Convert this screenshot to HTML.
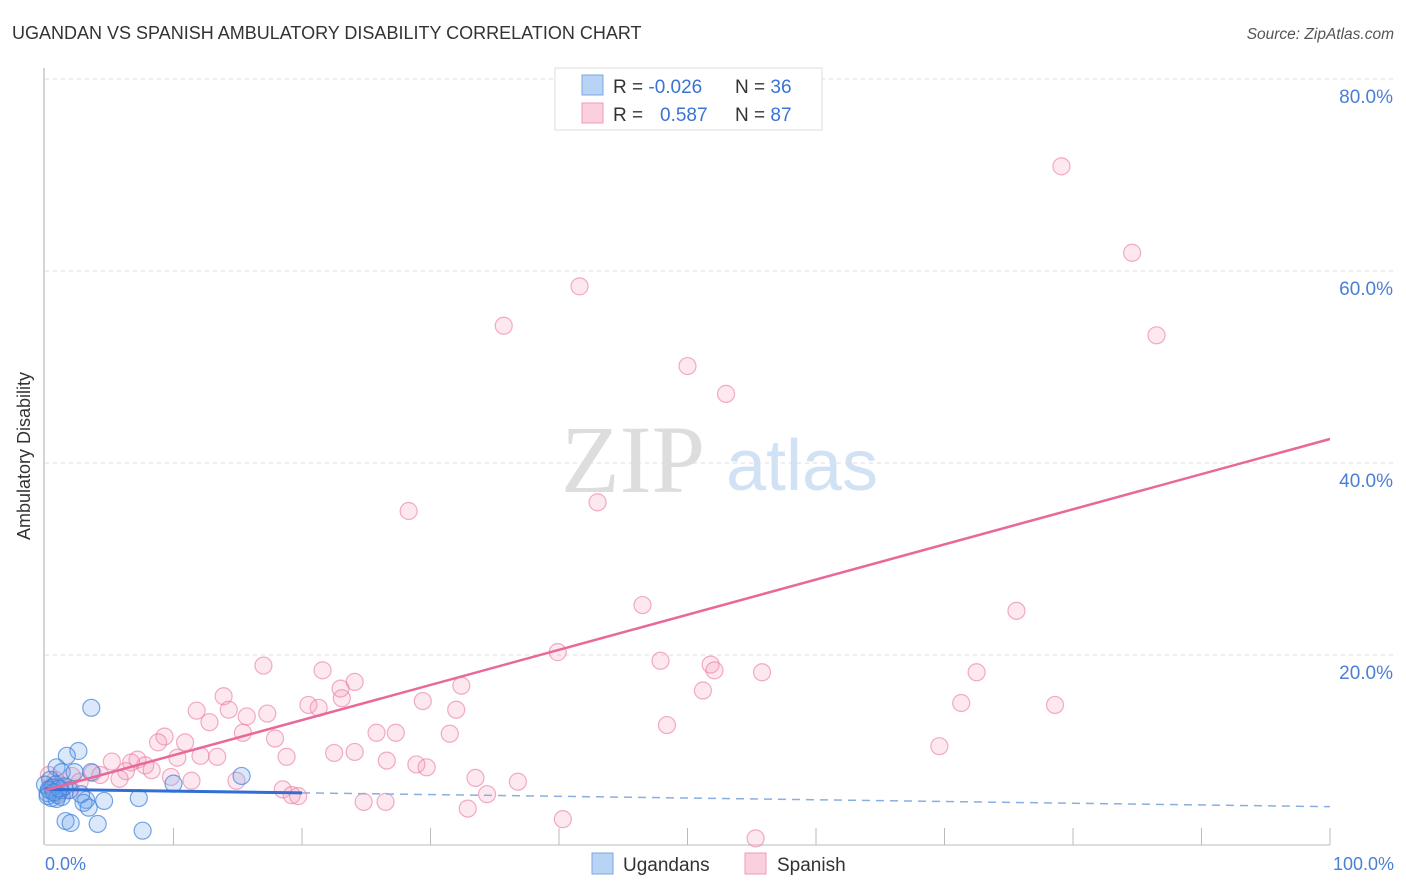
<!DOCTYPE html>
<html><head><meta charset="utf-8"><style>
body{margin:0;background:#fff;font-family:"Liberation Sans",sans-serif}
svg{display:block}
</style></head><body>
<svg width="1406" height="892" xmlns="http://www.w3.org/2000/svg">
<text x="12" y="39" font-size="18" fill="#333">UGANDAN VS SPANISH AMBULATORY DISABILITY CORRELATION CHART</text>
<text x="1394" y="39" font-size="15.5" fill="#555" font-style="italic" text-anchor="end">Source: ZipAtlas.com</text>
<text x="633" y="492" font-size="96" fill="#ddd" font-family="Liberation Serif,serif" text-anchor="middle">ZIP</text>
<text x="802" y="490" font-size="72" fill="#d2e2f5" text-anchor="middle">atlas</text>
<g id="grid"></g>
<g id="axes"></g>
<g id="pts"></g>
<g id="lines"></g>
<text x="30" y="456" font-size="18" fill="#333" transform="rotate(-90 30 456)" text-anchor="middle">Ambulatory Disability</text>
<text x="45" y="870" font-size="18" fill="#4a7fd6">0.0%</text>
<text x="1394" y="870" font-size="18" fill="#4a7fd6" text-anchor="end">100.0%</text>
<g>
<rect x="555" y="68" width="267" height="62" fill="#fff" stroke="#ddd"/>
<rect x="582" y="75" width="21" height="20" fill="#b9d3f5" stroke="#7aa7e6"/>
<rect x="582" y="103" width="21" height="20" fill="#fbd0de" stroke="#ef9ab8"/>
<text x="613" y="93" font-size="19" fill="#333">R = <tspan fill="#3a73d4">-0.026</tspan><tspan x="735">N = </tspan><tspan fill="#3a73d4">36</tspan></text>
<text x="613" y="121" font-size="19" fill="#333">R = <tspan x="660" fill="#3a73d4">0.587</tspan><tspan x="735">N = </tspan><tspan fill="#3a73d4">87</tspan></text>
</g>
<g>
<rect x="592" y="853" width="21" height="21" fill="#b9d3f5" stroke="#7aa7e6"/>
<text x="623" y="871" font-size="19" fill="#333">Ugandans</text>
<rect x="745" y="853" width="21" height="21" fill="#fbd0de" stroke="#ef9ab8"/>
<text x="777" y="871" font-size="19" fill="#333">Spanish</text>
</g>
</svg>
<script>
const yTicks=[20,40,60,80];
const yTickLabels=["20.0%","40.0%","60.0%","80.0%"];
const xTicks=[10,20,30,40,50,60,70,80,90,100];
const spanishX=[79.1,84.6,86.5,41.6,35.7,50.0,53.0,28.3,43.0,46.5,75.6,39.9,47.9,51.8,52.1,55.8,72.5,51.2,71.3,78.6,48.4,69.6,17.0,21.6,24.1,23.0,32.4,23.1,29.4,13.9,20.5,21.3,11.8,14.3,32.0,12.8,15.7,17.3,15.4,25.8,27.3,31.5,9.3,8.8,10.9,17.9,22.5,24.1,18.8,10.3,12.1,13.4,26.6,28.9,29.7,7.2,5.2,6.7,7.8,8.3,6.3,3.7,4.3,2.1,9.8,5.8,33.5,36.8,11.4,14.9,18.5,19.2,19.7,34.4,24.8,26.5,32.9,40.3,55.3,1.2,1.6,0.8,2.7,0.5,1.0,2.0,0.3];
const spanishY=[70.9,61.9,53.3,58.4,54.3,50.1,47.2,35.0,35.9,25.2,24.6,20.3,19.4,19.0,18.4,18.2,18.2,16.3,15.0,14.8,12.7,10.5,18.9,18.4,17.2,16.5,16.8,15.5,15.2,15.7,14.8,14.5,14.2,14.3,14.3,13.0,13.6,13.9,11.9,11.9,11.9,11.8,11.5,10.9,10.9,11.3,9.8,9.9,9.4,9.3,9.5,9.4,9.0,8.6,8.3,9.1,8.9,8.8,8.5,8.0,7.9,7.7,7.5,7.4,7.3,7.1,7.2,6.8,6.9,6.9,6.0,5.4,5.3,5.5,4.7,4.7,4.0,2.9,0.9,6.5,5.9,7.0,6.8,6.2,5.6,6.0,7.5];
const ugandaX=[3.6,2.6,1.7,0.9,1.3,2.3,3.6,15.3,10.0,0.4,0.8,0.4,1.0,0.5,1.3,0.2,3.2,3.0,4.6,7.3,3.4,1.6,2.0,4.1,7.6,0.0,1.9,1.2,0.6,0.3,1.5,0.9,0.2,2.8,0.7,1.1];
const ugandaY=[14.5,10.0,9.5,8.3,7.8,7.8,7.8,7.4,6.6,7.0,6.5,5.9,5.4,5.1,5.2,5.6,4.9,4.6,4.8,5.1,4.1,2.7,2.5,2.4,1.7,6.5,5.9,5.9,6.2,6.0,6.3,5.0,5.3,5.5,5.7,6.1];
const spanishTrend=[5.9,42.5];
const ugandaTrend=[6.0,4.2];
const ugandaSolidEnd=20;
const X=v=>45+v*12.85, Y=v=>847-v*9.6;
const NS="http://www.w3.org/2000/svg";
function mk(tag,attrs,parent){const e=document.createElementNS(NS,tag);for(const k in attrs)e.setAttribute(k,attrs[k]);document.getElementById(parent).appendChild(e);return e;}
yTicks.forEach((t,i)=>{
 const g=mk('line',{x1:45,x2:1393,y1:Y(t),y2:Y(t),stroke:'#ddd','stroke-dasharray':'4,4'},'grid');
 
 
 const l=mk('text',{x:1393,y:Y(t)+24,'font-size':19,fill:'#4a7fd6','text-anchor':'end'},'grid');
 l.textContent=yTickLabels[i];
 
 
});
const ax=mk('line',{x1:45,x2:1330,y1:845,y2:845,stroke:'#bbb'},'axes');


const ay=mk('line',{x1:44,x2:44,y1:68,y2:845,stroke:'#aaa'},'axes');


xTicks.forEach(t=>{
 const e=mk('line',{x1:X(t),x2:X(t),y1:828,y2:845,stroke:'#bbb'},'axes');
 
 
});
spanishX.forEach((x,i)=>{
 const c=mk('circle',{cx:X(x),cy:Y(spanishY[i]),r:8.5,fill:'rgba(244,150,182,0.22)',stroke:'rgba(232,120,160,0.6)','stroke-width':1.2},'pts');
 
 
});
ugandaX.forEach((x,i)=>{
 const c=mk('circle',{cx:X(x),cy:Y(ugandaY[i]),r:8.5,fill:'rgba(110,165,235,0.25)',stroke:'rgba(60,130,220,0.7)','stroke-width':1.2},'pts');
 
 
});
const uy=x=>ugandaTrend[0]+(ugandaTrend[1]-ugandaTrend[0])*x/100;
const u1=mk('line',{x1:X(0),y1:Y(uy(0)),x2:X(ugandaSolidEnd),y2:Y(uy(ugandaSolidEnd)),stroke:'#2f6fd6','stroke-width':3},'lines');


const u2=mk('line',{x1:X(ugandaSolidEnd),y1:Y(uy(ugandaSolidEnd)),x2:X(100),y2:Y(uy(100)),stroke:'#8aaee0','stroke-width':1.5,'stroke-dasharray':'8,6'},'lines');


const s=mk('line',{x1:X(0),y1:Y(spanishTrend[0]),x2:X(100),y2:Y(spanishTrend[1]),stroke:'#e8689a','stroke-width':2.5},'lines');


</script>
</body></html>
